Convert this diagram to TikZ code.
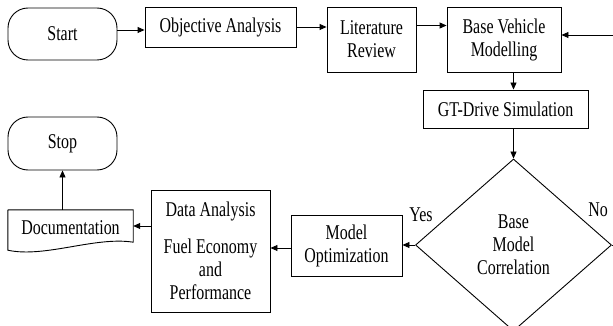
\documentclass[tikz,border=0pt]{standalone}
\usepackage{fontspec}
\setmainfont[FakeStretch=0.76]{Liberation Serif}
\usetikzlibrary{arrows.meta,shapes.geometric,calc}

\tikzset{
  box/.style={draw, line width=0.9pt, inner sep=0pt, align=center},
  term/.style={box, rounded corners=20pt},
  flow/.style={line width=0.9pt, -{Triangle[length=7pt,width=6pt]}},
}

\begin{document}
\begin{tikzpicture}[x=1pt, y=-1pt, font=\fontsize{21}{23}\selectfont]
  \useasboundingbox (0,0) rectangle (613,326);
  \clip (0,0) rectangle (613,326);
  % top row
  \node[term, minimum width=109pt, minimum height=52pt] (start) at (62.5,34) {Start};
  \node[box, minimum width=151pt, minimum height=40pt] (obj) at (220.5,27) {Objective Analysis};
  \node[box, minimum width=89pt, minimum height=65pt] (lit) at (371.5,39.5) {Literature\\Review};
  \node[box, minimum width=114pt, minimum height=65pt] (base) at (504,39.5) {Base Vehicle\\Modelling};
  \node[box, minimum width=165pt, minimum height=38pt] (gt) at (505.5,109) {GT-Drive Simulation};
  % decision
  \node[diamond, draw, line width=0.9pt, inner sep=0pt, align=center,
        minimum width=196pt, minimum height=172pt] (corr) at (513.5,245) {Base\\Model\\Correlation};
  \node (yes) at (421,215) {Yes};
  \node (no) at (598,210) {No};
  % bottom row
  \node[box, minimum width=111pt, minimum height=61pt] (opt) at (346.5,245.5) {Model\\Optimization};
  \node[box, minimum width=119pt, minimum height=122pt] (data) at (210.5,251)
    {Data Analysis\\[14pt]Fuel Economy\\and\\Performance};
  \node[minimum width=125pt, minimum height=36pt, inner sep=0pt] (doc) at (70.5,228) {Documentation};
  \draw[line width=0.9pt] (doc.south east) ++(0,-4) coordinate (docr)
    (doc.north west) -- (doc.north east) -- (docr)
    .. controls ($(docr)+(-38,-6)$) and ($(doc.south west)+(37,12)$) .. ($(doc.south west)+(0,4)$)
    -- (doc.north west);
  \node[term, minimum width=109pt, minimum height=53pt] (stop) at (62.5,143.5) {Stop};

  % connectors
  \draw[flow] ([yshift=4pt]start.east) -- ([yshift=4pt]start.east -| obj.west);
  \draw[flow] (obj.east) -- (obj.east -| lit.west);
  \draw[flow] ([yshift=14pt]lit.east) -- ([yshift=14pt]lit.east -| base.west);
  \draw[flow] (base.south -| corr.north) -- (gt.north -| corr.north);
  \draw[flow] (gt.south -| corr.north) -- (corr.north);
  \draw[flow] (corr.east) -- ++(20,0) |- ([yshift=4.5pt]base.east);
  \draw[flow] (corr.west) -- (corr.west -| opt.east);
  \draw[flow] ([yshift=-2.5pt]opt.west) -- ([yshift=-2.5pt]opt.west -| data.east);
  \draw[flow] ([yshift=25pt]data.west) -- ([yshift=25pt]data.west -| doc.east);
  \draw[flow] (stop.south |- doc.north) -- (stop.south);
\end{tikzpicture}
\end{document}
